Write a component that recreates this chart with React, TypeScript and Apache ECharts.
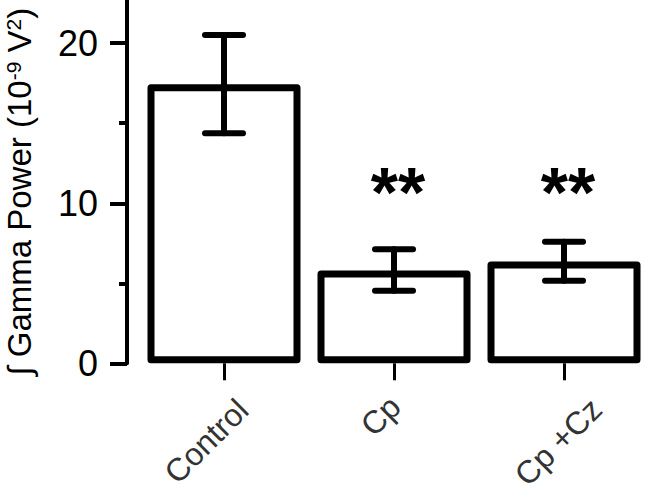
import React, { useEffect, useRef } from 'react';
import * as echarts from 'echarts';

const categories = ['Control', 'Cp', 'Cp +Cz'];
const means = [17.43, 5.8, 6.36];
const errLow = [14.37, 4.54, 5.16];
const errHigh = [20.52, 7.12, 7.6];
const sigMarks = ['', '**', '**'];
const sigLevel = 11.2;
const yTicks = [0, 10, 20];
const yMinorTicks = [5, 15];
const yMin = 0;
const yMax = 22.7;

const FONT = "'Liberation Sans', Arial, Helvetica, sans-serif";

export default function App() {
  const ref = useRef<HTMLDivElement>(null);
  useEffect(() => {
    const chart = echarts.init(ref.current as HTMLDivElement, null, { renderer: 'svg' });
    const labelPads: Record<string, number[]> = {
      l0: [0, 22, 28, 0],
      l1: [0, 0, 58, 20],
      l2: [0, 6, 10, 0],
    };
    const rich: Record<string, any> = {};
    Object.keys(labelPads).forEach((k) => {
      rich[k] = { fontSize: 32, color: '#333', fontFamily: FONT, padding: labelPads[k] };
    });
    const sigData = sigMarks
      .map((m, i) => (m ? [i, sigLevel] : null))
      .filter((d) => d !== null);

    chart.setOption({
      animation: false,
      grid: { left: 139, right: -4, top: 0, bottom: 120.7, containLabel: false, outerBoundsMode: 'none' },
      xAxis: {
        type: 'category',
        data: categories,
        boundaryGap: true,
        axisLine: { show: false },
        axisTick: {
          show: true,
          alignWithLabel: true,
          length: 17,
          lineStyle: { color: '#000', width: 3 },
        },
        axisLabel: {
          rotate: 45,
          align: 'center',
          verticalAlign: 'middle',
          margin: 80,
          fontSize: 32,
          color: '#333',
          fontFamily: FONT,
          formatter: (v: string, i: number) => `{l${i}|${v}}`,
          rich,
        },
        splitLine: { show: false },
      },
      yAxis: [
        {
          type: 'value',
          min: yMin,
          max: yMax,
          position: 'left',
          offset: 12,
          axisLine: { show: true, lineStyle: { color: '#000', width: 4 } },
          axisTick: {
            show: true,
            customValues: yTicks,
            length: 17,
            lineStyle: { color: '#000', width: 4 },
          },
          axisLabel: {
            customValues: yTicks,
            fontSize: 36,
            color: '#000',
            fontFamily: FONT,
            margin: 29,
          },
          splitLine: { show: false },
          name: '{i|∫} Gamma Power (10{s|-9} V{s|2}{e|)}',
          nameLocation: 'middle',
          nameRotate: 90,
          nameGap: 91,
          nameTextStyle: {
            fontSize: 33,
            color: '#000',
            fontFamily: FONT,
            rich: {
              i: { fontSize: 33, color: '#000', fontFamily: FONT },
              s: { fontSize: 21, color: '#000', fontFamily: FONT, verticalAlign: 'top' },
              e: { fontSize: 33, color: '#000', fontFamily: FONT, padding: [0, 20, 0, 0] },
            },
          },
        },
        {
          type: 'value',
          min: yMin,
          max: yMax,
          position: 'left',
          offset: 12,
          axisLine: { show: false },
          axisTick: {
            show: true,
            customValues: yMinorTicks,
            length: 8,
            lineStyle: { color: '#000', width: 4 },
          },
          axisLabel: { show: false },
          splitLine: { show: false },
        },
      ],
      series: [
        {
          type: 'bar',
          data: means,
          barWidth: 153,
          yAxisIndex: 0,
          z: 2,
          itemStyle: {
            color: '#fff',
            borderColor: '#000',
            borderWidth: 7,
            borderJoin: 'round',
          },
        },
        {
          type: 'custom',
          yAxisIndex: 0,
          z: 3,
          encode: { x: 0, y: [1, 2] },
          data: categories.map((_, i) => [i, errLow[i], errHigh[i]]),
          renderItem: (params: any, api: any) => {
            const x = api.value(0);
            const lo = api.coord([x, api.value(1)]);
            const hi = api.coord([x, api.value(2)]);
            const half = 19;
            const style = { stroke: '#000', lineWidth: 6, lineCap: 'round' };
            return {
              type: 'group',
              children: [
                { type: 'line', shape: { x1: hi[0], y1: hi[1], x2: lo[0], y2: lo[1] }, style },
                { type: 'line', shape: { x1: hi[0] - half, y1: hi[1], x2: hi[0] + half, y2: hi[1] }, style },
                { type: 'line', shape: { x1: lo[0] - half, y1: lo[1], x2: lo[0] + half, y2: lo[1] }, style },
              ],
            };
          },
        },
        {
          type: 'custom',
          yAxisIndex: 0,
          z: 4,
          encode: { x: 0, y: 1 },
          data: sigData,
          renderItem: (params: any, api: any) => {
            const i = api.value(0);
            const p = api.coord([i, api.value(1)]);
            return {
              type: 'text',
              x: p[0] + 4,
              y: p[1] + 9,
              style: {
                text: sigMarks[i],
                fontSize: 70,
                fontWeight: 'bold',
                fontFamily: FONT,
                fill: '#000',
                align: 'center',
                verticalAlign: 'middle',
              },
            };
          },
        },
      ],
    });
    return () => chart.dispose();
  }, []);
  return (
    <div
      ref={ref}
      style={{ position: 'fixed', left: 0, top: 0, width: 645, height: 484, background: '#fff' }}
    />
  );
}
